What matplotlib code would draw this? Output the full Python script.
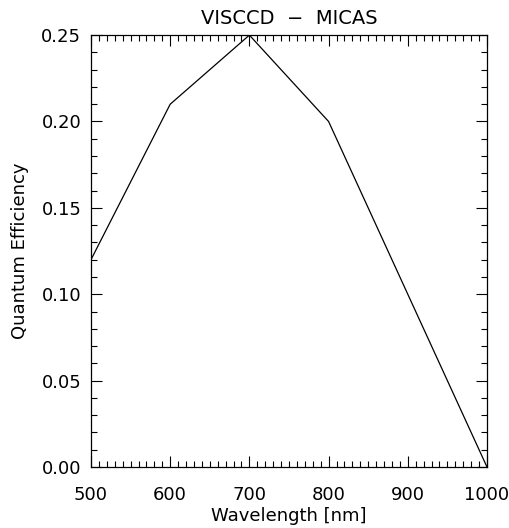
import matplotlib
matplotlib.use('Agg')
import matplotlib.pyplot as plot
from matplotlib.ticker import MultipleLocator

wavelength = [500, 600, 700, 800, 900, 1000]
efficiency = [0.12, 0.21, 0.25, 0.20, 0.10, 0.00]


def main():
    figure = plot.figure(figsize=(5.10, 5.28), dpi=100)
    axes = figure.add_axes([0.1784, 0.1155, 0.7765, 0.818])

    axes.plot(wavelength, efficiency, color='black', linewidth=0.9)

    axes.set_xlim(500, 1000)
    axes.set_ylim(0, 0.25)
    axes.xaxis.set_major_locator(MultipleLocator(100))
    axes.xaxis.set_minor_locator(MultipleLocator(10))
    axes.yaxis.set_major_locator(MultipleLocator(0.05))
    axes.yaxis.set_minor_locator(MultipleLocator(0.01))
    axes.yaxis.set_major_formatter(plot.FormatStrFormatter('%.2f'))

    axes.tick_params(which='both', direction='in', top=True, right=True, width=0.8, labelsize=13)
    axes.tick_params(which='major', length=8)
    axes.tick_params(which='minor', length=4)
    axes.tick_params(axis='x', pad=14)
    axes.tick_params(axis='y', pad=7)
    for spine in axes.spines.values():
        spine.set_linewidth(0.9)

    axes.set_xlabel('Wavelength [nm]', fontsize=13, labelpad=2)
    axes.set_ylabel('Quantum Efficiency', fontsize=13, labelpad=9)
    axes.set_title('VISCCD  \u2212  MICAS', fontsize=14, pad=8)

    figure.savefig('out.png', dpi=100)


if __name__ == '__main__':
    main()
